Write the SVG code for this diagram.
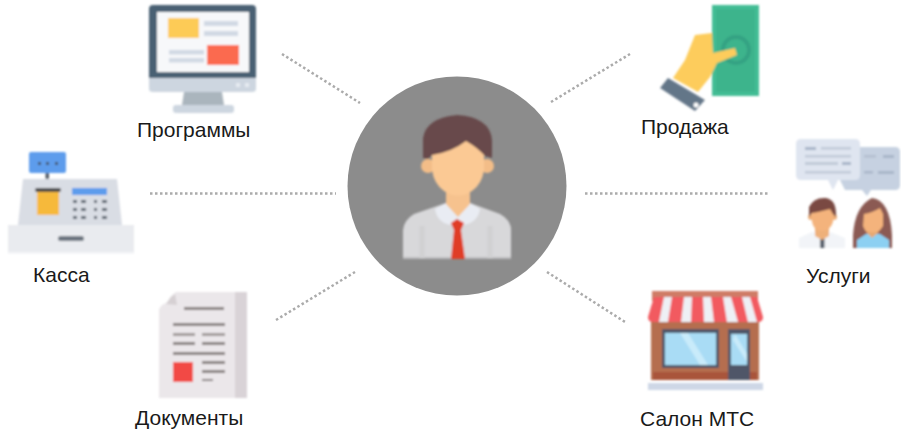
<svg xmlns="http://www.w3.org/2000/svg" width="901" height="430" viewBox="0 0 901 430">
<defs>
<filter id="soft" x="-5%" y="-5%" width="110%" height="110%"><feGaussianBlur stdDeviation="0.9"/></filter>
</defs>
<style>
text{font-family:"Liberation Sans",Arial,sans-serif;font-size:21px;fill:#1a1a1a}
.dot{fill:none;stroke:#ababab;stroke-width:2.500;stroke-dasharray:2.500 2.500}
.icon{filter:url(#soft)}
</style>
<rect width="901" height="430" fill="#fff"/>
<g id="connectors">
<line class="dot" x1="282" y1="54" x2="360" y2="103"/>
<line class="dot" x1="150" y1="193.500" x2="336" y2="193.500"/>
<line class="dot" x1="276" y1="320" x2="355" y2="272"/>
<line class="dot" x1="551" y1="102" x2="630" y2="54"/>
<line class="dot" x1="585" y1="193.500" x2="770" y2="193.500"/>
<line class="dot" x1="547" y1="272" x2="625" y2="322"/>
</g>
<g id="center">
<circle cx="457" cy="186" r="109.500" fill="#8c8c8c"/>
<g class="icon">
<path d="M403 259V230Q404 220 414 214L446 203H470L500 214Q511 220 511 230V259Z" fill="#d8d8da"/>
<rect x="403" y="257" width="108" height="2" fill="#bcbcbe"/>
<path d="M422 226V258M490 226V258" stroke="#d0d0d2" stroke-width="5"/>
<path d="M435 209L446 203L457 216L470 203L480 209Q478 222 464 225L457 218L450 225Q437 222 435 209Z" fill="#e9ecf3"/>
<path d="M446 190H470V204L458 217L446 204Z" fill="#f6c28e"/>
<path d="M451 223L457 219L464 223L461 230L465 259H451L454 230Z" fill="#e03c28"/>
<circle cx="428" cy="166" r="7" fill="#f3bd88"/>
<circle cx="487" cy="166" r="7" fill="#f3bd88"/>
<path d="M432 135H484V170Q482 184 472 191Q458 200 444 191Q434 184 432 170Z" fill="#fbc994"/>
<path d="M423 158V138Q426 118 457 115Q490 117 492 140V158L485 156Q478 148 466 141Q452 152 432 155L428 159Z" fill="#674a4b"/>
</g>
</g>
<g id="programmy">
<g class="icon">
<path d="M149 78V9Q149 5 153 5H252Q256 5 256 9V78Z" fill="#486073"/>
<rect x="157" y="12" width="92" height="60" fill="#f7f8fa"/>
<rect x="168" y="18" width="31" height="20" fill="#fdcb57"/>
<rect x="204" y="21" width="34" height="5" fill="#d1d9e4"/>
<rect x="204" y="31" width="34" height="5" fill="#d1d9e4"/>
<rect x="207" y="45" width="32" height="20" fill="#fb6a4f"/>
<rect x="169" y="50" width="35" height="4.500" fill="#d1d9e4"/>
<rect x="169" y="58" width="35" height="4.500" fill="#d1d9e4"/>
<path d="M149 78H256V89Q256 92 252 92H153Q149 92 149 89Z" fill="#cdd6e0"/>
<rect x="236" y="83" width="4" height="4" fill="#e6ebf1"/>
<rect x="245" y="83" width="4" height="4" fill="#e6ebf1"/>
<path d="M184 92H222L224 105H182Z" fill="#aab5bd"/>
<rect x="173" y="105" width="61" height="8" rx="3" fill="#cdd6e0"/>
</g>
<text x="137" y="137">Программы</text>
</g>
<g id="kassa">
<g class="icon">
<rect x="29" y="152" width="37" height="21" rx="2" fill="#5d9cec"/>
<g fill="#47566a"><rect x="38" y="162" width="3" height="3"/><rect x="46" y="162" width="3" height="3"/><rect x="55" y="162" width="3" height="3"/></g>
<rect x="45.500" y="173" width="3.500" height="7" fill="#555f6b"/>
<path d="M23 179H117L122 225H18Z" fill="#d9dde4"/>
<rect x="8" y="225" width="126" height="28" fill="#e9ebef"/>
<rect x="8" y="252" width="126" height="2" fill="#f5f6f8"/>
<rect x="58" y="236" width="26" height="5" rx="2.500" fill="#6c7580"/>
<rect x="37" y="191" width="22" height="24" fill="#f6b93b"/>
<rect x="35" y="188" width="26" height="4" rx="2" fill="#4c4c4c"/>
<rect x="72" y="188" width="35" height="7" fill="#5d9cec"/>
<g fill="#5b6570">
<rect x="73" y="200" width="4" height="3"/><rect x="81" y="200" width="5" height="3"/><rect x="94" y="200" width="3" height="3"/><rect x="102" y="200" width="5" height="3"/>
<rect x="73" y="208" width="4" height="3"/><rect x="81" y="208" width="5" height="3"/><rect x="94" y="208" width="3" height="3"/><rect x="102" y="208" width="5" height="3"/>
<rect x="73" y="216" width="4" height="3"/><rect x="81" y="216" width="5" height="3"/><rect x="94" y="216" width="3" height="3"/><rect x="102" y="216" width="5" height="3"/>
</g>
</g>
<text x="33" y="282">Касса</text>
</g>
<g id="dokumenty">
<g class="icon">
<path d="M159 398V309L162 305L168 302L171 296L176 292H247V398Z" fill="#ebe7ea"/>
<rect x="235" y="292" width="12" height="106" fill="#d9d3d7"/>
<path d="M166 304L170 298L175 294L177 305Z" fill="#d6d0d3"/>
<g fill="#87807f">
<rect x="184" y="307" width="40" height="3"/>
<rect x="173" y="323" width="52" height="3"/>
<rect x="173" y="333" width="22" height="3" fill="#a09a9a"/><rect x="202" y="333" width="23" height="3" fill="#a09a9a"/>
<rect x="173" y="342" width="22" height="3"/><rect x="202" y="342" width="23" height="3"/>
<rect x="173" y="352" width="52" height="3"/>
<rect x="202" y="361" width="23" height="3"/>
<rect x="202" y="370" width="23" height="3"/>
<rect x="202" y="379" width="11" height="2"/>
</g>
<rect x="173" y="362" width="20" height="20" fill="#f24a45"/>
</g>
<text x="135" y="425">Документы</text>
</g>
<g id="prodazha">
<g class="icon">
<rect x="712" y="5" width="47" height="91" fill="#42bd94"/>
<rect x="716" y="9" width="39" height="83" fill="#3cb48c"/>
<circle cx="736" cy="50" r="13" fill="none" stroke="#35a283" stroke-width="4"/>
<path d="M695 35L712 33L713 53L735 48L737 55L717 63L710 77L698 92L673 78L685 60Z" fill="#fdcc5b"/>
<path d="M668 78L705 100L695 111L660 88Z" fill="#647688"/>
<circle cx="696" cy="105" r="2.500" fill="#fff"/>
</g>
<text x="641" y="134">Продажа</text>
</g>
<g id="uslugi">
<g class="icon">
<path d="M860 147H895Q900 147 900 152V185Q900 190 895 190H871L867 196L862 190H845L840 180Z" fill="#c6d1e1"/>
<path d="M801 139H855Q860 139 860 144V175Q860 180 855 180H838L833 190L828 180H801Q796 180 796 175V144Q796 139 801 139Z" fill="#dfe5f0"/>
<g fill="#c1cad8"><rect x="805" y="147" width="11" height="3" fill="#a9b6c9"/><rect x="821" y="147" width="30" height="2.500"/><rect x="805" y="155" width="46" height="2.500"/><rect x="805" y="162" width="33" height="3"/><rect x="842" y="162" width="9" height="3" fill="#a9b6c9"/><rect x="805" y="171" width="46" height="2.500"/></g>
<g fill="#a9b6c9"><rect x="864" y="155" width="12" height="2.500" fill="#b4bfd0"/><rect x="883" y="155" width="11" height="3"/><rect x="864" y="171" width="9" height="2.500"/><rect x="878" y="171" width="16" height="3"/></g>
<path d="M799 248V238L812 232L830 232L845 238V248Z" fill="#f2f4f8"/>
<rect x="820" y="238" width="4.500" height="10" fill="#59616d"/>
<path d="M815 226H829V236L822 240L815 236Z" fill="#eeb07a"/>
<circle cx="811" cy="217" r="3" fill="#eeb07a"/><circle cx="834" cy="217" r="3" fill="#eeb07a"/>
<path d="M812 205H833V222Q830 231 822 231Q814 231 812 222Z" fill="#f4b37c"/>
<path d="M809 217V207Q814 197 826 198Q837 200 836 217L833 214L830 209L818 212L812 213Z" fill="#7a4a42"/>
<path d="M853 248V235Q855 206 872 198Q890 200 892 235V248Z" fill="#8b5a53"/>
<path d="M857 248V240L866 234H880L889 240V248Z" fill="#8cd0f2"/>
<path d="M864 214Q872 213 880 208L883 214V226Q878 234 872 234Q866 234 863 226Z" fill="#f4b37c"/>
<path d="M866 232H879L872 238Z" fill="#e7a972"/>
</g>
<text x="806" y="283">Услуги</text>
</g>
<g id="salon">
<g class="icon">
<rect x="652" y="291" width="106" height="10" fill="#cf7b66"/>
<rect x="651" y="306" width="108" height="74" fill="#b56e50"/>
<rect x="653" y="372" width="104" height="8" fill="#a9553a"/>
<rect x="648" y="383" width="115" height="7" fill="#ced7e6"/>
<path d="M654 297H757L763 317Q763 322 758 322H653Q648 322 648 317Z" fill="#f25a60"/>
<g fill="#eef0f5"><path d="M664 297H672L668 322H659Z"/><path d="M684 297H692L691 322H681Z"/><path d="M703 297H711L714 322H704Z"/><path d="M723 297H731L738 322H727Z"/><path d="M742 297H750L757 322H748Z"/></g>
<rect x="662" y="329" width="57" height="39" fill="#4f5668"/>
<rect x="665" y="333" width="51" height="32" fill="#a9dcf5"/>
<path d="M680 333H688L708 365H700Z" fill="#c9ebfa"/>
<rect x="728" y="329" width="22" height="51" fill="#4f5668"/>
<rect x="731" y="334" width="16" height="31" fill="#a9dcf5"/>
<path d="M735 334L747 354V362L733 340Z" fill="#c9ebfa"/>
</g>
<text x="640" y="426">Салон МТС</text>
</g>
</svg>
